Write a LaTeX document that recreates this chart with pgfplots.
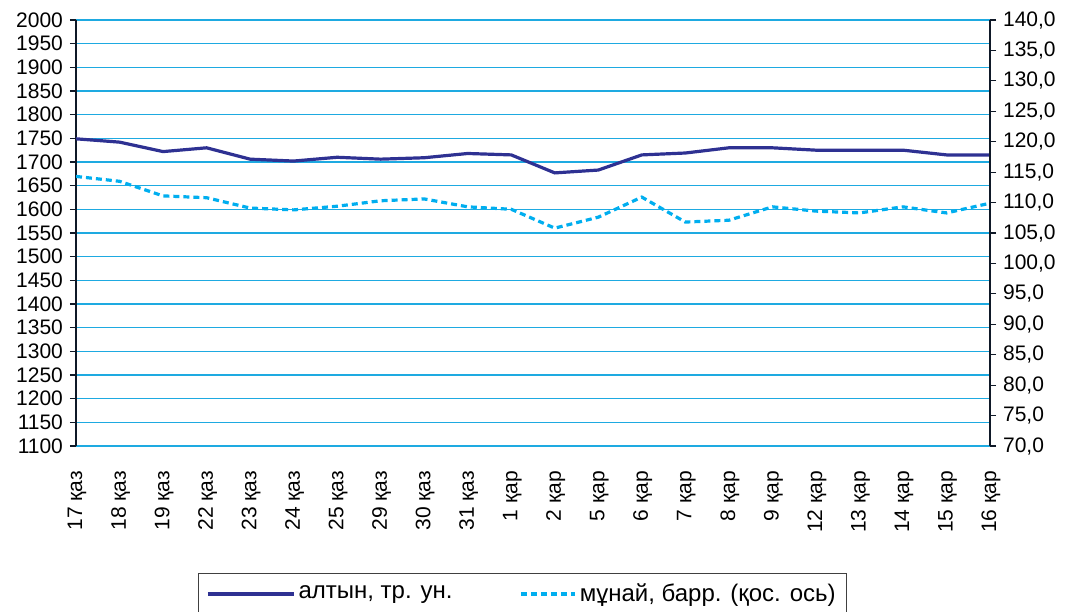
\documentclass[border=0pt]{standalone}
\usepackage{fontspec}
\setmainfont{Liberation Sans}
\usepackage{pgfplots}
\usepackage{pgfplotstable}
\pgfplotsset{compat=1.18}
\definecolor{goldc}{RGB}{46,49,146}
\definecolor{oilc}{RGB}{0,174,239}
\definecolor{gridc}{RGB}{30,170,225}
\definecolor{axc}{RGB}{15,25,40}
\pgfplotsset{
  longleg/.style={legend image code/.code={\draw[##1] (0pt,0pt) -- (43pt,0pt);}},
  shortleg/.style={legend image code/.code={\draw[##1] (0pt,0pt) -- (27pt,0pt);}},
}

\pgfplotstableread{
x gold oil
0 1749 114.3
1 1742 113.5
2 1722 111.1
3 1730 110.8
4 1706 109.1
5 1702 108.8
6 1710 109.4
7 1706 110.3
8 1709 110.6
9 1718 109.3
10 1715 108.9
11 1677 105.8
12 1683 107.6
13 1715 110.9
14 1719 106.8
15 1730 107.1
16 1730 109.3
17 1725 108.6
18 1725 108.3
19 1725 109.3
20 1715 108.3
21 1715 109.9
}\data

\begin{document}
\begin{tikzpicture}[font=\fontsize{10.5}{12.5}\selectfont]
\begin{axis}[
  scale only axis, width=457pt, height=213pt,
  xmin=0, xmax=21, ymin=1100, ymax=2000,
  ytick distance=50,
  axis y line*=left, axis x line*=bottom,
  x axis line style={draw=none},
  y axis line style={draw=axc, line width=0.8pt},
  ymajorgrids, grid style={draw=gridc, line width=0.6pt},
  tick align=outside, major tick length=3pt,
  ytick style={draw=axc, line width=0.6pt},
  xtick style={draw=none},
  xtick={0,...,21},
  xticklabels={17 қаз,18 қаз,19 қаз,22 қаз,23 қаз,24 қаз,25 қаз,29 қаз,30 қаз,31 қаз,1 қар,2 қар,5 қар,6 қар,7 қар,8 қар,9 қар,12 қар,13 қар,14 қар,15 қар,16 қар},
  xticklabel style={rotate=90, anchor=east, xshift=-6pt, yshift=-0.5pt},
  /pgf/number format/assume math mode=true,
  yticklabel style={/pgf/number format/1000 sep={}},
]
\addplot[goldc, line width=1.6pt] table[x=x, y=gold] {\data};
\coordinate (bl) at (rel axis cs:0,0);
\coordinate (tr) at (rel axis cs:1,1);
\end{axis}
\begin{axis}[
  scale only axis, width=457pt, height=213pt,
  xmin=0, xmax=21, ymin=70, ymax=140,
  ytick distance=5,
  axis y line*=right, axis x line=none,
  y axis line style={draw=axc, line width=0.8pt},
  tick align=outside, major tick length=3pt,
  ytick style={draw=axc, line width=0.6pt},
  /pgf/number format/assume math mode=true,
  yticklabel style={/pgf/number format/.cd, fixed, fixed zerofill, precision=1, use comma},
  legend columns=2,
  legend style={at={(0.4885,0)}, anchor=north, yshift=-63.5pt, draw=black!75, line width=0.6pt,
    inner xsep=4pt, inner ysep=3pt,
    /tikz/every even column/.append style={column sep=32pt},
    nodes={inner xsep=1.5pt},
    font=\fontsize{12}{14}\selectfont},
]
\addlegendimage{goldc, line width=1.6pt, longleg}
\addlegendentry{алтын, тр. ун.}
\addplot[oilc, line width=1.6pt, dash pattern=on 3pt off 2pt, shortleg] table[x=x, y=oil] {\data};
\addlegendentry{мұнай, барр. (қос. ось)}
\end{axis}
\pgfresetboundingbox
\path ([shift={(-38pt,-82.5pt)}]bl) rectangle ([shift={(41pt,10pt)}]tr);
\end{tikzpicture}
\end{document}
